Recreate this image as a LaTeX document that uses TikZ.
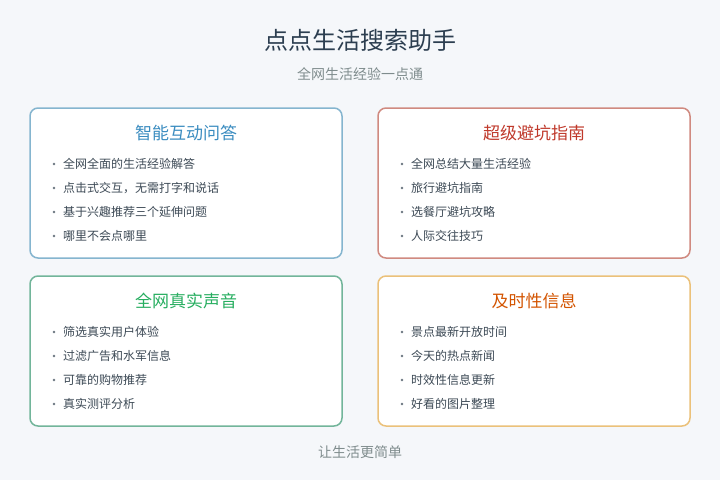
\documentclass[tikz,border=0pt]{standalone}
\usepackage{fontspec}
\setmainfont{Noto Sans CJK SC}
\begin{document}
\begin{tikzpicture}[x=1pt,y=-1pt,
  card/.style={draw=#1, line width=1.5pt, rounded corners=8pt, fill=white},
  cardtitle/.style={text=#1, font=\fontsize{17}{20}\selectfont, anchor=center, inner sep=0pt},
  item/.style={text=txt, font=\fontsize{12}{14}\selectfont, anchor=west, inner sep=0pt},
  dot/.style={fill=dotc, draw=none}
]
\definecolor{bg}{HTML}{F5F7FA}
\definecolor{ttl}{HTML}{2C3E50}
\definecolor{sub}{HTML}{7F8C8D}
\definecolor{txt}{HTML}{3D4A56}
\definecolor{dotc}{HTML}{6B7680}
\definecolor{b1}{HTML}{85B5CF}
\definecolor{b2}{HTML}{D08A80}
\definecolor{b3}{HTML}{72B59A}
\definecolor{b4}{HTML}{EBC17A}
\definecolor{t1}{HTML}{3A8CC0}
\definecolor{t2}{HTML}{C0392B}
\definecolor{t3}{HTML}{27AE60}
\definecolor{t4}{HTML}{D35400}
\useasboundingbox (0,0) rectangle (720,480);
\fill[bg] (0,0) rectangle (720,480);

\node[text=ttl, font=\fontsize{24}{28}\selectfont, inner sep=0pt] (title) at (360,40) {点点生活搜索助手};
\node[text=sub, font=\fontsize{14}{16}\selectfont, inner sep=0pt] (subtitle) at (360,74) {全网生活经验一点通};

% cards
\draw[card=b1] (30,108) rectangle (342,258);
\draw[card=b2] (378,108) rectangle (690,258);
\draw[card=b3] (30,276) rectangle (342,426);
\draw[card=b4] (378,276) rectangle (690,426);

% card 1
\node[cardtitle=t1] (c1t) at (186,133) {智能互动问答};
\foreach \y/\s [count=\i] in {164/全网全面的生活经验解答,188/点击式交互，无需打字和说话,212/基于兴趣推荐三个延伸问题,236/哪里不会点哪里}{
  \fill[dot] (54,\y) circle (1.3);
  \node[item] (c1i\i) at (63,\y) {\s};
}
% card 2
\node[cardtitle=t2] (c2t) at (534,133) {超级避坑指南};
\foreach \y/\s [count=\i] in {164/全网总结大量生活经验,188/旅行避坑指南,212/选餐厅避坑攻略,236/人际交往技巧}{
  \fill[dot] (402,\y) circle (1.3);
  \node[item] (c2i\i) at (411,\y) {\s};
}
% card 3
\node[cardtitle=t3] (c3t) at (186,301) {全网真实声音};
\foreach \y/\s [count=\i] in {332/筛选真实用户体验,356/过滤广告和水军信息,380/可靠的购物推荐,404/真实测评分析}{
  \fill[dot] (54,\y) circle (1.3);
  \node[item] (c3i\i) at (63,\y) {\s};
}
% card 4
\node[cardtitle=t4] (c4t) at (534,301) {及时性信息};
\foreach \y/\s [count=\i] in {332/景点最新开放时间,356/今天的热点新闻,380/时效性信息更新,404/好看的图片整理}{
  \fill[dot] (402,\y) circle (1.3);
  \node[item] (c4i\i) at (411,\y) {\s};
}

\node[text=sub, font=\fontsize{14}{16}\selectfont, inner sep=0pt] (footer) at (360,452) {让生活更简单};
\end{tikzpicture}
\end{document}
